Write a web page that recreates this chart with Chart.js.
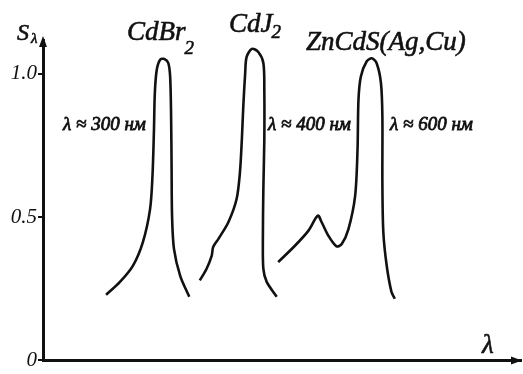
<!DOCTYPE html>
<html>
<head>
<meta charset="utf-8">
<script src="https://cdn.jsdelivr.net/npm/chart.js@4"></script>
<style>
  html, body { margin: 0; padding: 0; background: #fff; }
  #wrap { width: 523px; height: 374px; }
</style>
</head>
<body>
<div id="wrap"><canvas id="spectra"></canvas></div>
<script>
// relative spectral sensitivity S(lambda), lambda in arbitrary units (0..100)
const cdbr2X = [13.2, 16.1, 18.8, 20.9, 22.4, 22.9, 23.2, 23.4, 23.8, 24.5, 25.4, 26.2, 26.6, 26.8, 26.9, 27.0, 27.4, 28.7, 30.6];
const cdbr2Y = [0.229, 0.274, 0.33, 0.413, 0.528, 0.642, 0.795, 0.934, 1.014, 1.049, 1.052, 1.038, 0.99, 0.851, 0.677, 0.503, 0.389, 0.295, 0.222];

const cdj2X = [32.8, 34.2, 35.3, 35.6, 36.7, 38.8, 40.5, 41.2, 41.6, 41.9, 42.3, 42.6, 43.7, 45.0, 46.1, 46.3, 46.3, 46.1, 46.0, 46.1, 46.8, 48.9];
const cdj2Y = [0.279, 0.319, 0.366, 0.396, 0.424, 0.483, 0.563, 0.656, 0.771, 0.885, 1.003, 1.059, 1.087, 1.077, 1.038, 0.944, 0.771, 0.597, 0.424, 0.319, 0.274, 0.222];

const zncdsX = [49.2, 52.7, 55.5, 57.5, 58.3, 59.7, 61.4, 62.5, 63.9, 65.3, 65.8, 66.0, 66.5, 67.7, 68.8, 69.8, 70.7, 71.0, 71.0, 71.2, 71.9, 72.9, 73.6];
const zncdsY = [0.343, 0.400, 0.452, 0.505, 0.482, 0.435, 0.398, 0.406, 0.458, 0.574, 0.736, 0.910, 0.991, 1.043, 1.054, 1.037, 0.968, 0.852, 0.620, 0.447, 0.331, 0.239, 0.215];

const yTicks = [0, 0.5, 1.0];
const peakNames = ['CdBr', 'CdJ', 'ZnCdS(Ag,Cu)'];
const peakSubs = ['2', '2', ''];
const waveLabels = ['λ ≈ 300 нм', 'λ ≈ 400 нм', 'λ ≈ 600 нм'];

const INK = '#111';
const SERIF = '"Liberation Serif", "DejaVu Serif", serif';

function toPoints(xs, ys) {
    return xs.map((x, i) => ({ x: x, y: ys[i] }));
}

function curve(label, xs, ys) {
    return {
        label: label,
        data: toPoints(xs, ys),
        showLine: true,
        borderColor: INK,
        borderWidth: 2.6,
        pointRadius: 0,
        tension: 0.3,
        fill: false
    };
}

// filled + thin stroke, so the type looks as heavy as the scan
function inkText(ctx, t, x, y) {
    ctx.fillText(t, x, y);
    ctx.strokeText(t, x, y);
}

// arrows on the axes and the hand-set captions
const decorations = {
    id: 'decorations',
    afterDraw(chart) {
        const ctx = chart.ctx;
        const a = chart.chartArea;
        ctx.save();
        ctx.fillStyle = INK;
        ctx.strokeStyle = INK;
        ctx.lineWidth = 0.6;

        // y arrow
        ctx.beginPath();
        ctx.moveTo(a.left, a.top - 4);
        ctx.lineTo(a.left - 4, a.top + 7);
        ctx.lineTo(a.left + 4, a.top + 7);
        ctx.closePath();
        ctx.fill();
        // x arrow
        ctx.beginPath();
        ctx.moveTo(a.right + 1, a.bottom);
        ctx.lineTo(a.right - 10, a.bottom - 4);
        ctx.lineTo(a.right - 10, a.bottom + 4);
        ctx.closePath();
        ctx.fill();

        ctx.textBaseline = 'alphabetic';
        ctx.textAlign = 'left';

        // axis titles
        ctx.font = 'italic 24px ' + SERIF;
        inkText(ctx, 'S', 17, 40);
        ctx.font = 'italic 15px ' + SERIF;
        inkText(ctx, 'λ', 31, 43);
        ctx.font = 'italic 27px ' + SERIF;
        inkText(ctx, 'λ', 482, 353);

        // substance names
        const namePos = [[127, 40, 54], [229, 32, 38], [306, 50, 50]];
        peakNames.forEach((name, i) => {
            const p = namePos[i];
            ctx.font = 'italic 27px ' + SERIF;
            inkText(ctx, name, p[0], p[1]);
            if (peakSubs[i]) {
                const w = ctx.measureText(name).width;
                ctx.font = 'italic 19px ' + SERIF;
                inkText(ctx, peakSubs[i], p[0] + w - 1, p[2]);
            }
        });

        // wavelength notes
        const wavePos = [[63, 130], [268, 130], [390, 130]];
        ctx.font = 'italic 19px ' + SERIF;
        ctx.lineWidth = 0.8;
        waveLabels.forEach((t, i) => {
            inkText(ctx, t, wavePos[i][0], wavePos[i][1]);
        });
        ctx.restore();
    }
};

function build() {
    const ctx1 = document.getElementById('spectra').getContext('2d');
    return new Chart(ctx1, {
        type: 'scatter',
        data: {
            datasets: [
                curve('CdBr2', cdbr2X, cdbr2Y),
                curve('CdJ2', cdj2X, cdj2Y),
                curve('ZnCdS(Ag,Cu)', zncdsX, zncdsY)
            ]
        },
        options: {
            responsive: true,
            maintainAspectRatio: false,
            animation: false,
            layout: { padding: { top: 40, right: 2, left: 0, bottom: 0 } },
            plugins: {
                legend: { display: false },
                tooltip: { enabled: false }
            },
            scales: {
                x: {
                    type: 'linear',
                    min: 0,
                    max: 100,
                    grid: { display: false },
                    border: { display: true, color: INK, width: 3 },
                    ticks: { display: false },
                    afterFit(scale) { scale.height = 12; }
                },
                y: {
                    type: 'linear',
                    min: 0,
                    max: 1.118,
                    afterBuildTicks(scale) {
                        scale.ticks = yTicks.map(v => ({ value: v }));
                    },
                    grid: {
                        display: true,
                        drawOnChartArea: false,
                        drawTicks: true,
                        tickLength: 5,
                        color: INK,
                        lineWidth: 2
                    },
                    border: { display: true, color: INK, width: 3 },
                    ticks: {
                        padding: 1,
                        color: INK,
                        font: { family: SERIF, size: 21, style: 'italic' },
                        callback: v => (v === 0 ? '0' : v.toFixed(1))
                    },
                    afterFit(scale) { scale.width = 43; }
                }
            }
        },
        plugins: [decorations]
    });
}

// make sure the italic serif face is ready before the canvas draws text
Promise.all([
    document.fonts.load('italic 20px "Liberation Serif"'),
    document.fonts.load('20px "Liberation Serif"')
]).catch(() => null).then(build);
</script>
</body>
</html>
